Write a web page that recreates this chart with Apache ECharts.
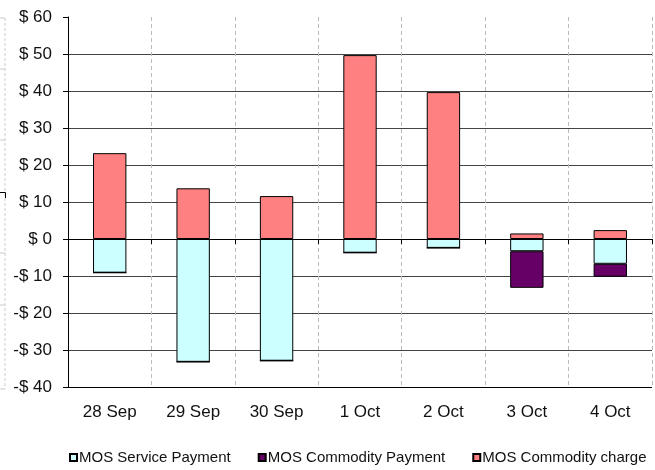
<!DOCTYPE html>
<html>
<head>
<meta charset="utf-8">
<title>MOS payments and charges</title>
<script src="https://cdn.jsdelivr.net/npm/echarts@6/dist/echarts.min.js"></script>
<style>
  html, body { margin: 0; padding: 0; background: #fff; }
  #chart { width: 655px; height: 470px; }
</style>
</head>
<body>
<div id="chart"></div>
<script>
// Daily MOS amounts in dollars
const days = ['28 Sep', '29 Sep', '30 Sep', '1 Oct', '2 Oct', '3 Oct', '4 Oct'];
const servicePayment = [-9.1, -33.2, -32.9, -3.7, -2.4, -3.3, -6.7];
const commodityPayment = [0, 0, 0, 0, 0, -9.9, -3.5];
const commodityCharge = [23.2, 13.7, 11.6, 49.7, 39.7, 1.5, 2.4];
const yTicks = [-40, -30, -20, -10, 0, 10, 20, 30, 40, 50, 60];

const FONT = 'Liberation Sans, Arial, sans-serif';

function money(v) {
  return v < 0 ? '-$ ' + (-v) : '$ ' + v;
}

// one colour per horizontal rule, bottom to top; the rule at the top is left out
const ruleColors = yTicks.map((t, i) =>
  i === 0 ? '#000' : (i === yTicks.length - 1 ? 'rgba(0,0,0,0)' : '#444'));

const chart = echarts.init(document.getElementById('chart'), null, { renderer: 'canvas' });

const barBase = {
  type: 'bar',
  stack: 'total',
  barWidth: '40%',
  xAxisIndex: 0,
  yAxisIndex: 0
};

chart.setOption({
  animation: false,
  backgroundColor: '#fff',
  textStyle: { fontFamily: FONT },
  grid: { left: 68, right: 3, top: 17, bottom: 83, containLabel: false },
  xAxis: [
    {
      type: 'category',
      data: days,
      position: 'bottom',
      axisLine: { show: true, onZero: true, lineStyle: { color: '#000', width: 1 } },
      axisTick: { show: true, alignWithLabel: false, length: 5, inside: false, lineStyle: { color: '#000' } },
      axisLabel: { show: false },
      splitLine: { show: true, lineStyle: { color: '#bbb', type: [4, 3], width: 1 } }
    },
    {
      type: 'category',
      data: days,
      position: 'bottom',
      axisLine: { show: false, onZero: false },
      axisTick: { show: false },
      splitLine: { show: false },
      axisLabel: { show: true, margin: 17, color: '#111', fontSize: 17, fontFamily: FONT }
    }
  ],
  yAxis: {
    type: 'value',
    min: -40,
    max: 60,
    interval: 10,
    axisLine: { show: true, lineStyle: { color: '#000', width: 1 } },
    axisTick: { show: true, length: 5, inside: false, lineStyle: { color: '#000' } },
    axisLabel: { margin: 16, color: '#111', fontSize: 17, fontFamily: FONT, formatter: money },
    splitLine: { show: true, lineStyle: { color: ruleColors, width: 1 } }
  },
  legend: {
    bottom: 0,
    left: 64,
    itemWidth: 7,
    itemHeight: 7,
    itemGap: 27,
    icon: 'rect',
    textStyle: { fontSize: 15, color: '#111', fontFamily: FONT, padding: [0, 0, 0, -3] },
    data: ['MOS Service Payment', 'MOS Commodity Payment', 'MOS Commodity charge']
  },
  series: [
    Object.assign({}, barBase, {
      name: 'MOS Service Payment',
      data: servicePayment,
      itemStyle: { color: '#CCFFFF', borderColor: '#000', borderWidth: 1 }
    }),
    Object.assign({}, barBase, {
      name: 'MOS Commodity Payment',
      data: commodityPayment,
      itemStyle: { color: '#660066', borderColor: '#000', borderWidth: 1 }
    }),
    Object.assign({}, barBase, {
      name: 'MOS Commodity charge',
      data: commodityCharge,
      itemStyle: { color: '#FF8080', borderColor: '#000', borderWidth: 1 }
    })
  ],
  graphic: [
    // faint dashed frame along the left edge
    { type: 'line', silent: true, shape: { x1: 5, y1: 18, x2: 5, y2: 389 },
      style: { stroke: '#ccc', lineWidth: 1, lineDash: [3, 2] } },
    { type: 'line', silent: true, shape: { x1: 0, y1: 18, x2: 5, y2: 18 }, style: { stroke: '#ccc', lineWidth: 1 } },
    { type: 'line', silent: true, shape: { x1: 0, y1: 69, x2: 5, y2: 69 }, style: { stroke: '#ccc', lineWidth: 1 } },
    { type: 'line', silent: true, shape: { x1: 0, y1: 140, x2: 5, y2: 140 }, style: { stroke: '#ccc', lineWidth: 1 } },
    { type: 'line', silent: true, shape: { x1: 0, y1: 253, x2: 5, y2: 253 }, style: { stroke: '#ccc', lineWidth: 1 } },
    { type: 'line', silent: true, shape: { x1: 0, y1: 305, x2: 5, y2: 305 }, style: { stroke: '#ccc', lineWidth: 1 } },
    { type: 'line', silent: true, shape: { x1: 0, y1: 389, x2: 5, y2: 389 }, style: { stroke: '#ccc', lineWidth: 1 } },
    { type: 'polyline', silent: true, shape: { points: [[0, 192.5], [5.5, 192.5], [5.5, 198]] },
      style: { stroke: '#000', lineWidth: 1, fill: null } }
  ]
});
</script>
</body>
</html>
